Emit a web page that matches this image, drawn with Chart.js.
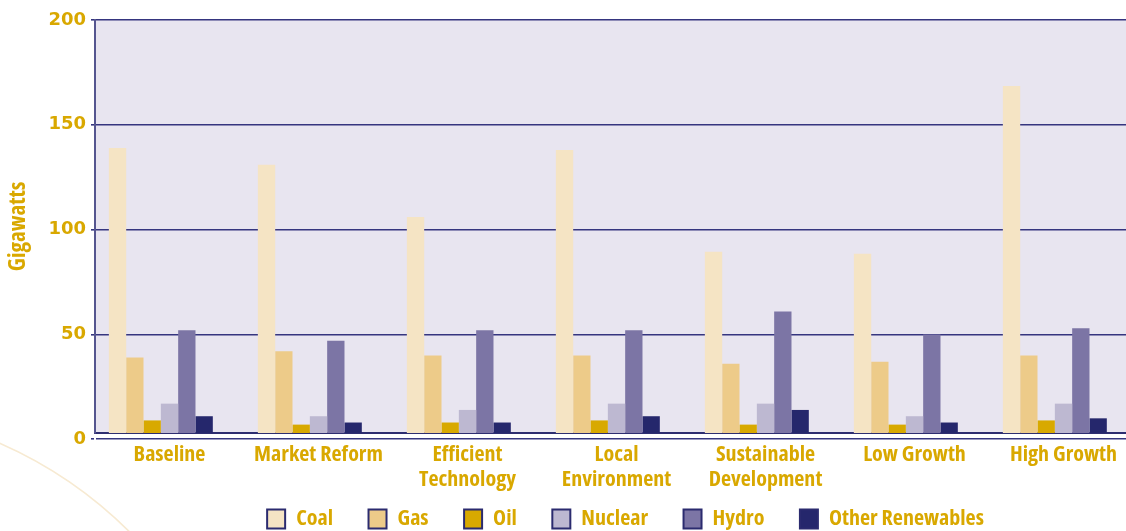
<!DOCTYPE html>
<html>
<head>
<meta charset="utf-8">
<script src="https://cdn.jsdelivr.net/npm/chart.js@4/dist/chart.umd.min.js"></script>
<style>
  html, body { margin: 0; padding: 0; background: #ffffff; overflow: hidden; }
  #wrap { position: relative; width: 1140px; height: 540px; }
</style>
</head>
<body>
<div id="wrap"><canvas id="c"></canvas></div>
<script>
// ---- data ----
const categories = ['Baseline', 'Market Reform', ['Efficient', 'Technology'], ['Local', 'Environment'], ['Sustainable', 'Development'], 'Low Growth', 'High Growth'];
const seriesNames = ['Coal', 'Gas', 'Oil', 'Nuclear', 'Hydro', 'Other Renewables'];
const coal      = [139, 131, 106, 138, 89.5, 88.5, 168.5];
const gas       = [39, 42, 40, 40, 36, 37, 40];
const oil       = [9, 7, 8, 9, 7, 7, 9];
const nuclear   = [17, 11, 14, 17, 17, 11, 17];
const hydro     = [52, 47, 52, 52, 61, 50, 53];
const otherRen  = [11, 8, 8, 11, 14, 8, 10];
const yTicks    = [0, 50, 100, 150, 200];
const axisTitle = 'Gigawatts';

// ---- styles ----
const colors = ['#f5e4c4', '#edcb89', '#d8a900', '#bdb8d1', '#7c75a5', '#25276c'];
const gold = '#d9a800';
const navy = '#35357f';

// pick an installed condensed bold face (the original uses a narrow bold sans)
function detectNarrow() {
  const ctx = document.createElement('canvas').getContext('2d');
  const sample = 'Market Reform';
  const target = 129;
  const w = (f) => { ctx.font = f; return ctx.measureText(sample).width; };
  const cands = [
    { family: "'Liberation Sans Narrow'", weight: 'bold' },
    { family: "'Open Sans'", weight: 'bold condensed' },
    { family: "'Noto Sans'", weight: 'bold condensed' },
    { family: "'Noto Sans'", weight: 'bold semi-condensed' },
    { family: "'Open Sans'", weight: 'bold semi-condensed' },
    { family: "Roboto", weight: 'bold condensed' },
    { family: "Inter", weight: 'bold condensed' },
    { family: "'DejaVu Sans'", weight: 'bold condensed' },
    { family: "'DejaVu Sans Condensed'", weight: 'bold' }
  ];
  let best = null;
  for (const c of cands) {
    const wm = w(`${c.weight} 22px ${c.family}, monospace`);
    const ws = w(`${c.weight} 22px ${c.family}, serif`);
    if (Math.abs(wm - ws) > 0.5) continue;
    const diff = Math.abs(wm - target);
    if (!best || diff < best.diff) best = { ...c, width: wm, diff };
  }
  if (!best) best = { family: 'sans-serif', weight: 'bold', width: 160 };
  const size = Math.max(16, Math.min(23, 22 * target / best.width));
  return { family: best.family + ', sans-serif', weight: best.weight, size: Math.round(size * 2) / 2 };
}
const NF = detectNarrow();

const values = [coal, gas, oil, nuclear, hydro, otherRen];
const datasets = values.map((v, i) => ({
  label: seriesNames[i],
  data: v,
  backgroundColor: colors[i],
  borderWidth: 0
}));
// empty spacer slot (keeps the group offset as in the original)
datasets.push({ label: '', data: categories.map(() => null), backgroundColor: 'rgba(0,0,0,0)', borderWidth: 0 });

const decor = {
  id: 'decor',
  afterLayout(chart) {
    // the original legend sits slightly right of the plot centre
    if (chart.legend) { chart.legend.left += 9; chart.legend.right += 9; }
  },
  beforeDraw(chart) {
    const { ctx, chartArea } = chart;
    ctx.save();
    ctx.strokeStyle = '#f7ead2';
    ctx.lineWidth = 1.6;
    ctx.beginPath();
    ctx.arc(-173, 836, 429, 0, Math.PI * 2);
    ctx.stroke();
    ctx.fillStyle = '#e8e5f0';
    ctx.fillRect(chartArea.left, chartArea.top, chartArea.right - chartArea.left, chartArea.bottom - chartArea.top);
    ctx.restore();
  }
};

new Chart(document.getElementById('c'), {
  type: 'bar',
  data: { labels: categories, datasets },
  plugins: [decor],
  options: {
    responsive: true,
    maintainAspectRatio: false,
    animation: false,
    devicePixelRatio: 1,
    layout: { padding: { top: 20, left: 0, right: 2, bottom: 0 } },
    datasets: { bar: { categoryPercentage: 0.814, barPercentage: 1.0 } },
    scales: {
      x: {
        type: 'category',
        offset: true,
        grid: { display: false, drawTicks: false },
        border: { display: true, color: '#2e2e70', width: 2 },
        ticks: {
          color: gold,
          font: { family: NF.family, size: NF.size, weight: NF.weight, lineHeight: 25 / NF.size },
          padding: 9,
          maxRotation: 0,
          autoSkip: false
        },
        afterFit(scale) {
          scale.height = 39.5;
          scale._computeLabelArea = () => undefined; // let 2-line labels overflow into legend band
        }
      },
      y: {
        min: 3,
        max: 200,
        afterBuildTicks(axis) { axis.ticks = yTicks.map(v => ({ value: v })); },
        grid: { color: navy, lineWidth: 1.6, drawTicks: true, tickLength: 4 },
        border: { display: true, color: '#55558f', width: 2 },
        ticks: {
          color: gold,
          font: { family: "'DejaVu Sans', sans-serif", size: 18, weight: 'bold' },
          padding: 5
        },
        title: {
          display: true,
          text: axisTitle,
          color: gold,
          font: { family: NF.family, size: NF.size + 1, weight: NF.weight, lineHeight: 1.2 },
          padding: { top: 5, bottom: 0 }
        },
        afterFit(scale) { scale.width = 95; }
      }
    },
    plugins: {
      legend: {
        position: 'bottom',
        fullSize: false,
        labels: {
          color: gold,
          font: { family: NF.family, size: NF.size, weight: NF.weight },
          boxWidth: 18,
          boxHeight: 19,
          padding: 35.5,
          filter: (item) => item.datasetIndex < 6,
          generateLabels(chart) {
            return Chart.defaults.plugins.legend.labels.generateLabels(chart).map(l => ({
              ...l, strokeStyle: '#2b2b6f', lineWidth: 2
            }));
          }
        }
      },
      tooltip: { enabled: false },
      title: { display: false }
    }
  }
});
</script>
</body>
</html>
